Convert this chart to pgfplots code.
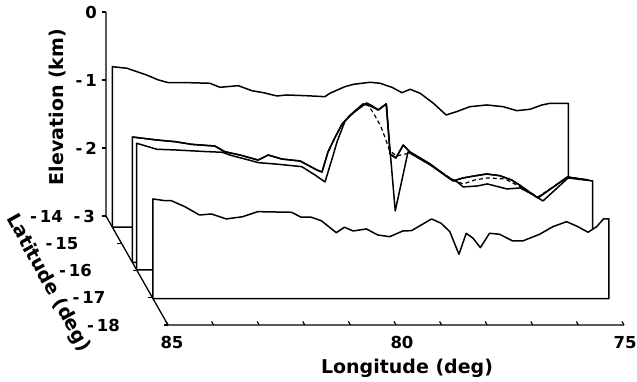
\documentclass[border=0pt]{standalone}
\usepackage{pgfplots}
\pgfplotsset{compat=1.18}
\usepackage{fontspec}
\setmainfont{DejaVu Sans}
\usetikzlibrary{calc}
\newcommand\ticklab{\fontsize{16.5}{18}\selectfont\bfseries}
\newcommand\axlab{\fontsize{19}{22}\selectfont\bfseries}
\begin{document}
\begin{tikzpicture}[line join=round, line cap=round]
\begin{axis}[
  x={(-45.6pt,0pt)}, y={(-15.5pt,27.25pt)}, z={(0pt,68pt)},
  xmin=75, xmax=85, ymin=-18, ymax=-14, zmin=-3, zmax=0,
  hide axis, clip=false,
]
% axis lines
\addplot3[black, line width=1.3pt] coordinates {(85,-14,0) (85,-14,-3) (85,-18,-3) (75,-18,-3)};
\pgfplotsinvokeforeach{75,76,77,78,79,80,81,82,83,84,85}{
  \draw[line width=1.2pt] (axis cs:#1,-18,-3) -- (axis cs:#1,-17.87,-3);
}
\pgfplotsinvokeforeach{-14,-15,-16,-17,-18}{
  \draw[line width=1.2pt] (axis cs:85,#1,-3) -- ++(-4pt,0pt);
}
\pgfplotsinvokeforeach{0,-1,-2,-3}{
  \draw[line width=1.2pt] (axis cs:85,-14,#1) -- ++(-4pt,0pt);
}
\coordinate (O) at (axis cs:85,-14,-3);
% back panel (lat -14.4)
\addplot3[fill=white, draw=black, line width=1.5pt] coordinates {
(85,-14.41,-3) (85,-14.41,-0.640) (84.68,-14.41,-0.663) (84.25,-14.41,-0.762) (83.99,-14.41,-0.835)
(83.77,-14.41,-0.875) (83.33,-14.41,-0.875) (82.86,-14.41,-0.884) (82.64,-14.41,-0.943) (82.24,-14.41,-0.919)
(81.94,-14.41,-0.993) (81.69,-14.41,-1.022) (81.39,-14.41,-1.071) (81.18,-14.41,-1.056) (80.77,-14.41,-1.066)
(80.34,-14.41,-1.081) (80.23,-14.41,-1.031) (79.90,-14.41,-0.934) (79.71,-14.41,-0.899) (79.35,-14.41,-0.869)
(79.13,-14.41,-0.884) (78.87,-14.41,-0.943) (78.65,-14.41,-1.022) (78.47,-14.41,-0.972) (78.25,-14.41,-1.031)
(77.96,-14.41,-1.178) (77.68,-14.41,-1.350) (77.45,-14.41,-1.301) (77.16,-14.41,-1.228) (76.79,-14.41,-1.203)
(76.43,-14.41,-1.228) (76.13,-14.41,-1.287) (75.84,-14.41,-1.266) (75.58,-14.41,-1.203) (75.40,-14.41,-1.178)
(75.00,-14.41,-1.178) (75,-14.41,-3) (85,-14.41,-3)};
% middle panel 1 (lat -15.7)
\addplot3[fill=white, draw=black, line width=1.5pt] coordinates {
(85,-15.70,-3) (85,-15.70,-1.157) (84.46,-15.70,-1.201) (84.06,-15.70,-1.226) (83.70,-15.70,-1.265)
(83.19,-15.70,-1.290) (82.97,-15.70,-1.374) (82.64,-15.70,-1.422) (82.24,-15.70,-1.496) (82.02,-15.70,-1.422)
(81.72,-15.70,-1.481) (81.32,-15.70,-1.510) (80.95,-15.70,-1.643) (80.84,-15.70,-1.672) (80.71,-15.70,-1.378)
(80.55,-15.70,-1.157) (80.40,-15.70,-0.966) (80.22,-15.70,-0.834) (79.94,-15.70,-0.672) (79.78,-15.70,-0.701)
(79.61,-15.70,-0.760) (79.43,-15.70,-0.672) (79.35,-15.70,-1.407) (79.22,-15.70,-1.466) (79.06,-15.70,-1.275)
(78.91,-15.70,-1.378) (78.47,-15.70,-1.554) (77.97,-15.70,-1.804) (77.75,-15.70,-1.760) (77.51,-15.70,-1.731)
(77.23,-15.70,-1.701) (76.94,-15.70,-1.726) (76.68,-15.70,-1.790) (76.51,-15.70,-1.863) (76.11,-15.70,-2.054)
(75.46,-15.70,-1.746) (75.00,-15.70,-1.790) (75,-15.70,-3) (85,-15.70,-3)};
% middle panel 2 (lat -16.0)
\addplot3[fill=white, draw=black, line width=1.5pt] coordinates {
(85,-15.98,-3) (85,-15.98,-1.137) (84.56,-15.98,-1.225) (84.16,-15.98,-1.235) (83.46,-15.98,-1.260)
(83.13,-15.98,-1.269) (82.91,-15.98,-1.319) (82.55,-15.98,-1.382) (82.33,-15.98,-1.422) (81.89,-15.98,-1.446)
(81.38,-15.98,-1.481) (81.09,-15.98,-1.603) (80.87,-15.98,-1.706) (80.71,-15.98,-1.353) (80.60,-15.98,-1.103)
(80.43,-15.98,-0.809) (80.25,-15.98,-0.691) (79.96,-15.98,-0.544) (79.83,-15.98,-0.588) (79.70,-15.98,-0.647)
(79.53,-15.98,-0.559) (79.33,-15.98,-2.132) (79.05,-15.98,-1.265) (78.56,-15.98,-1.456) (78.19,-15.98,-1.632)
(77.97,-15.98,-1.706) (77.84,-15.98,-1.779) (77.53,-15.98,-1.765) (77.31,-15.98,-1.735) (76.88,-15.98,-1.809)
(76.59,-15.98,-1.794) (76.30,-15.98,-1.897) (76.09,-15.98,-1.985) (75.54,-15.98,-1.647) (75.00,-15.98,-1.691)
(75,-15.98,-3) (85,-15.98,-3)};
% profile 1 again on top
\addplot3[draw=black, line width=1.5pt] coordinates {
(85,-15.70,-1.157) (84.46,-15.70,-1.201) (84.06,-15.70,-1.226) (83.70,-15.70,-1.265)
(83.19,-15.70,-1.290) (82.97,-15.70,-1.374) (82.64,-15.70,-1.422) (82.24,-15.70,-1.496) (82.02,-15.70,-1.422)
(81.72,-15.70,-1.481) (81.32,-15.70,-1.510) (80.95,-15.70,-1.643) (80.84,-15.70,-1.672) (80.71,-15.70,-1.378)
(80.55,-15.70,-1.157) (80.40,-15.70,-0.966) (80.22,-15.70,-0.834) (79.94,-15.70,-0.672) (79.78,-15.70,-0.701)
(79.61,-15.70,-0.760) (79.43,-15.70,-0.672) (79.35,-15.70,-1.407) (79.22,-15.70,-1.466) (79.06,-15.70,-1.275)
(78.91,-15.70,-1.378) (78.47,-15.70,-1.554) (77.97,-15.70,-1.804) (77.75,-15.70,-1.760) (77.51,-15.70,-1.731)
(77.23,-15.70,-1.701) (76.94,-15.70,-1.726) (76.68,-15.70,-1.790) (76.51,-15.70,-1.863) (76.11,-15.70,-2.054)
(75.46,-15.70,-1.746) (75.00,-15.70,-1.790)};
% dashed model profile
\addplot3[draw=black, line width=1.2pt, dash pattern=on 4pt off 3pt] coordinates {
(79.96,-15.98,-0.544) (79.81,-15.98,-0.691) (79.65,-15.98,-0.882) (79.55,-15.98,-1.059) (79.46,-15.98,-1.235)
(79.31,-15.98,-1.324) (79.00,-15.98,-1.279) (78.56,-15.98,-1.456) (78.06,-15.98,-1.676) (77.84,-15.98,-1.735)
(77.58,-15.98,-1.676) (77.31,-15.98,-1.647) (76.92,-15.98,-1.662) (76.59,-15.98,-1.779) (76.20,-15.98,-1.926)
(75.54,-15.98,-1.632) (75.00,-15.98,-1.691)};
% front panel (lat -17)
\addplot3[fill=white, draw=black, line width=1.5pt] coordinates {
(85,-17.03,-3) (85,-17.03,-1.535) (84.74,-17.03,-1.560) (84.60,-17.03,-1.560) (84.30,-17.03,-1.649)
(83.98,-17.03,-1.771) (83.72,-17.03,-1.756) (83.39,-17.03,-1.829) (83.03,-17.03,-1.796) (82.70,-17.03,-1.722)
(81.96,-17.03,-1.731) (81.75,-17.03,-1.804) (81.53,-17.03,-1.804) (81.31,-17.03,-1.854) (80.98,-17.03,-2.031)
(80.80,-17.03,-1.951) (80.61,-17.03,-2.006) (80.32,-17.03,-1.976) (80.07,-17.03,-2.065) (79.81,-17.03,-2.090)
(79.52,-17.03,-2.006) (79.33,-17.03,-2.001) (78.89,-17.03,-1.829) (78.68,-17.03,-1.893) (78.49,-17.03,-2.016)
(78.29,-17.03,-2.349) (78.13,-17.03,-2.040) (77.98,-17.03,-2.113) (77.82,-17.03,-2.251) (77.62,-17.03,-2.040)
(77.40,-17.03,-2.054) (77.11,-17.03,-2.153) (76.89,-17.03,-2.153) (76.52,-17.03,-2.054) (76.23,-17.03,-1.943)
(75.93,-17.03,-1.869) (75.68,-17.03,-1.943) (75.46,-17.03,-2.025) (75.27,-17.03,-1.943) (75.12,-17.03,-1.829)
(75.00,-17.03,-1.829) (75,-17.03,-3) (85,-17.03,-3)};
% tick labels
\node[font=\ticklab, inner sep=0pt, anchor=east] at ($(axis cs:85,-14,0)+(-9pt,0pt)$) {0};
\node[font=\ticklab, inner sep=0pt, anchor=east] at ($(axis cs:85,-14,-1)+(-9pt,0pt)$) {-\,1};
\node[font=\ticklab, inner sep=0pt, anchor=east] at ($(axis cs:85,-14,-2)+(-9pt,0pt)$) {-\,2};
\node[font=\ticklab, inner sep=0pt, anchor=east] at ($(axis cs:85,-14,-3)+(-11pt,0pt)$) {-\,3};
\node[font=\ticklab, inner sep=0pt, anchor=east] at ($(axis cs:85,-14,-3)+(-43pt,0pt)$) {-\,14};
\node[font=\ticklab, inner sep=0pt, anchor=east] at ($(axis cs:85,-15,-3)+(-43pt,0pt)$) {-\,15};
\node[font=\ticklab, inner sep=0pt, anchor=east] at ($(axis cs:85,-16,-3)+(-45pt,0pt)$) {-\,16};
\node[font=\ticklab, inner sep=0pt, anchor=east] at ($(axis cs:85,-17,-3)+(-47pt,0pt)$) {-\,17};
\node[font=\ticklab, inner sep=0pt, anchor=east] at ($(axis cs:85,-18,-3)+(-48pt,0pt)$) {-\,18};
\node[font=\ticklab, inner sep=0pt, anchor=north] at ($(axis cs:85,-18,-3)+(4pt,-11pt)$) {85};
\node[font=\ticklab, inner sep=0pt, anchor=north] at ($(axis cs:80,-18,-3)+(6pt,-11pt)$) {80};
\node[font=\ticklab, inner sep=0pt, anchor=north] at ($(axis cs:75,-18,-3)+(1pt,-11pt)$) {75};
% axis titles
\node[font=\axlab, inner sep=0pt, rotate=90] at ($(axis cs:85,-14,-1.5)+(-48pt,7pt)$) {Elevation (km)};
\node[font=\axlab, inner sep=0pt, rotate=-61] at ($(axis cs:85,-16,-3)+(-89pt,-12.5pt)$) {Latitude (deg)};
\node[font=\axlab, inner sep=0pt] at ($(axis cs:80,-18,-3)+(11pt,-43pt)$) {Longitude (deg)};
\end{axis}
\pgfresetboundingbox
\path ($(O)+(-106pt,216pt)$) rectangle ($(O)+(531pt,-166pt)$);
\end{tikzpicture}
\end{document}
